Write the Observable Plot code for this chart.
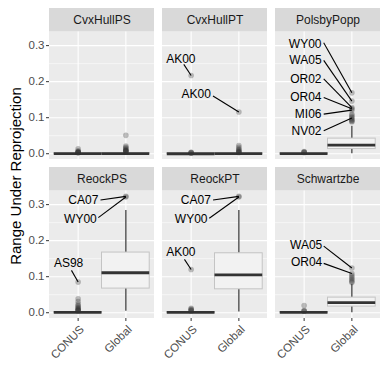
<!DOCTYPE html>
<html><head><meta charset="utf-8">
<script src="https://cdn.jsdelivr.net/npm/d3@7"></script>
<script src="https://cdn.jsdelivr.net/npm/@observablehq/plot@0.6"></script>
<style>
body{margin:0;background:#fff;}
#wrap{position:relative;width:388px;height:388px;font-family:"Liberation Sans",Arial,sans-serif;}
#wrap svg{display:block;position:absolute;left:0;top:0;}
#ytitle{position:absolute;left:15px;top:176px;transform:translate(-50%,-50%) rotate(-90deg);font-size:15px;color:#000;white-space:nowrap;line-height:1;}
</style></head><body><div id="wrap"><div id="ytitle">Range Under Reprojection</div></div>
<script>
// ---- data ----
const metrics = ["CvxHullPS", "CvxHullPT", "PolsbyPopp", "ReockPS", "ReockPT", "Schwartzbe"];
const groups = ["CONUS", "Global"];
const yTicks = [0, 0.1, 0.2, 0.3];
const yMinor = [0.05, 0.15, 0.25];

// per metric: [CONUS, Global]
const whiskerLow  = [[0, 0], [0, 0], [0, 0], [0, 0.004], [0, 0.002], [0, 0]];
const q1s         = [[0, 0], [0, 0], [0, 0.013], [0, 0.067], [0, 0.065], [0, 0.017]];
const medians     = [[0.0003, 0.0005], [0, 0.0005], [0.0005, 0.024], [0.001, 0.111], [0.001, 0.105], [0.001, 0.028]];
const q3s         = [[0.001, 0.002], [0.0005, 0.001], [0.001, 0.042], [0.002, 0.167], [0.002, 0.165], [0.002, 0.042]];
const whiskerHigh = [[0.002, 0.004], [0.001, 0.002], [0.002, 0.076], [0.004, 0.284], [0.003, 0.284], [0.003, 0.079]];

const outliers = [
  [[0.014, 0.008, 0.006, 0.005, 0.004, 0.0035, 0.003, 0.003],
   [0.051, 0.021, 0.018, 0.015, 0.012, 0.010, 0.009, 0.008, 0.007, 0.006, 0.005]],
  [[0.217, 0.004, 0.003, 0.002, 0.0018],
   [0.116, 0.023, 0.018, 0.014, 0.011, 0.009, 0.007, 0.005, 0.004, 0.003]],
  [[0.006, 0.005, 0.004, 0.003],
   [0.169, 0.146, 0.128, 0.125, 0.121, 0.110, 0.106, 0.102, 0.099, 0.095, 0.093, 0.090, 0.088]],
  [[0.085, 0.039, 0.031, 0.024, 0.020, 0.017, 0.014, 0.012, 0.010, 0.008, 0.007, 0.006, 0.005],
   [0.323, 0.321]],
  [[0.120, 0.012, 0.010, 0.008, 0.006, 0.005],
   [0.323, 0.321]],
  [[0.020, 0.006, 0.005, 0.004],
   [0.124, 0.109, 0.103, 0.099, 0.095, 0.091, 0.087, 0.084]]
];

// labelled outliers (repelled label positions, in data units)
const labelMetric = ["CvxHullPT", "CvxHullPT", "PolsbyPopp", "PolsbyPopp", "PolsbyPopp", "PolsbyPopp", "PolsbyPopp", "PolsbyPopp", "ReockPS", "ReockPS", "ReockPS", "ReockPT", "ReockPT", "ReockPT", "Schwartzbe", "Schwartzbe"];
const labelGroup  = ["CONUS", "Global", "Global", "Global", "Global", "Global", "Global", "Global", "Global", "Global", "CONUS", "Global", "Global", "CONUS", "Global", "Global"];
const labelText   = ["AK00", "AK00", "WY00", "WA05", "OR02", "OR04", "MI06", "NV02", "CA07", "WY00", "AS98", "CA07", "WY00", "AK00", "WA05", "OR04"];
const labelValue  = [0.217, 0.116, 0.169, 0.146, 0.128, 0.125, 0.121, 0.099, 0.323, 0.321, 0.085, 0.323, 0.321, 0.120, 0.124, 0.109];
const labelX      = [0.784, 1.413, 1.365, 1.365, 1.365, 1.365, 1.365, 1.365, 1.423, 1.390, 0.800, 1.413, 1.344, 0.784, 1.380, 1.380];
const labelY      = [0.263, 0.164, 0.305, 0.259, 0.208, 0.158, 0.110, 0.062, 0.313, 0.259, 0.137, 0.313, 0.259, 0.169, 0.188, 0.141];
const labelAnchor = ["middle", "end", "end", "end", "end", "end", "end", "end", "end", "end", "middle", "end", "end", "middle", "end", "end"];
const segX        = [0.846, 1.458, 1.410, 1.410, 1.410, 1.410, 1.410, 1.410, 1.469, 1.423, 0.860, 1.460, 1.380, 0.860, 1.410, 1.410];
const segY        = [0.248, 0.160, 0.308, 0.259, 0.208, 0.156, 0.110, 0.064, 0.313, 0.264, 0.1175, 0.313, 0.262, 0.148, 0.185, 0.137];

// ---- build tables ----
const col = i => i % 3, row = i => Math.floor(i / 3);
const panels = metrics.map((m, i) => ({metric: m, col: col(i), row: row(i)}));
const boxes = metrics.flatMap((m, i) => groups.map((g, j) => ({
  col: col(i), row: row(i), gx: j + 1,
  lo: whiskerLow[i][j], q1: q1s[i][j], med: medians[i][j], q3: q3s[i][j], hi: whiskerHigh[i][j]
})));
const points = metrics.flatMap((m, i) => groups.flatMap((g, j) =>
  outliers[i][j].map(v => ({col: col(i), row: row(i), gx: j + 1, v}))));
const labels = labelText.map((t, k) => {
  const i = metrics.indexOf(labelMetric[k]);
  return {col: col(i), row: row(i), gx: groups.indexOf(labelGroup[k]) + 1, v: labelValue[k],
          text: t, lx: labelX[k], ly: labelY[k], anchor: labelAnchor[k], sx: segX[k], sy: segY[k]};
});

const xLo = 0.4, xHi = 2.6, yMin = -0.016, panelTop = 0.338, yMax = 0.403;
const F = {fx: "col", fy: "row"};

const chart = Plot.plot({
  width: 388, height: 388,
  marginLeft: 48.3, marginRight: 7.3, marginTop: 7.3, marginBottom: 70.7,
  style: {fontFamily: "Liberation Sans, Arial, sans-serif", fontSize: "11.5px", background: "transparent", color: "#333"},
  fx: {axis: null, domain: [0, 1, 2], paddingInner: 0.072, paddingOuter: 0},
  fy: {axis: null, domain: [0, 1], paddingInner: 0.053, paddingOuter: 0},
  x: {domain: [xLo, xHi], axis: null},
  y: {domain: [yMin, yMax], axis: null},
  marks: [
    Plot.rect([0], {x1: () => xLo, x2: () => xHi, y1: () => yMin, y2: () => panelTop, fill: "#EBEBEB"}),
    Plot.rect([0], {x1: () => xLo, x2: () => xHi, y1: () => panelTop, y2: () => yMax, fill: "#D9D9D9"}),
    Plot.text(panels, {...F, x: () => (xLo + xHi) / 2, y: () => (panelTop + yMax) / 2, text: "metric", fontSize: 12, fill: "#1A1A1A"}),
    Plot.ruleY(yMinor, {x1: xLo, x2: xHi, stroke: "white", strokeWidth: 0.55}),
    Plot.ruleY(yTicks, {x1: xLo, x2: xHi, stroke: "white", strokeWidth: 1.1}),
    Plot.ruleX([1, 2], {y1: yMin, y2: panelTop, stroke: "white", strokeWidth: 1.1}),
    Plot.ruleX(boxes, {...F, x: "gx", y1: "lo", y2: "q1", stroke: "#333", strokeWidth: 1.2}),
    Plot.ruleX(boxes, {...F, x: "gx", y1: "q3", y2: "hi", stroke: "#333", strokeWidth: 1.2}),
    Plot.rect(boxes, {...F, x1: d => d.gx - 0.5, x2: d => d.gx + 0.5, y1: "q1", y2: "q3", fill: "#F2F2F2", stroke: "#C4C4C4", strokeWidth: 1}),
    Plot.ruleY(boxes, {...F, x1: d => d.gx - 0.5, x2: d => d.gx + 0.5, y: "med", stroke: "#333", strokeWidth: 2.8}),
    Plot.dot(points, {...F, x: "gx", y: "v", r: 2.8, fill: "#333", fillOpacity: 0.3, stroke: null}),
    Plot.link(labels, {...F, x1: "sx", y1: "sy", x2: "gx", y2: "v", stroke: "#000", strokeWidth: 1.1}),
    Plot.text(labels.filter(d => d.anchor === "end"), {...F, x: "lx", y: "ly", text: "text", textAnchor: "end", fontSize: 12, fill: "#000"}),
    Plot.text(labels.filter(d => d.anchor === "middle"), {...F, x: "lx", y: "ly", text: "text", textAnchor: "middle", fontSize: 12, fill: "#000"}),
    Plot.axisY(yTicks, {tickSize: 3, tickPadding: 2, tickFormat: ".1f", fontSize: 11.5, fill: "#4D4D4D", stroke: "#333"}),
    Plot.axisX([1, 2], {tickSize: 3, tickFormat: () => "", stroke: "#333"}),
    Plot.axisX([1, 2], {tickSize: 0, tickPadding: 5, tickFormat: d => groups[d - 1], tickRotate: -45, fontSize: 11.5, fill: "#4D4D4D", dx: 4, dy: 4})
  ]
});
document.getElementById("wrap").prepend(chart);
</script>
</body></html>
